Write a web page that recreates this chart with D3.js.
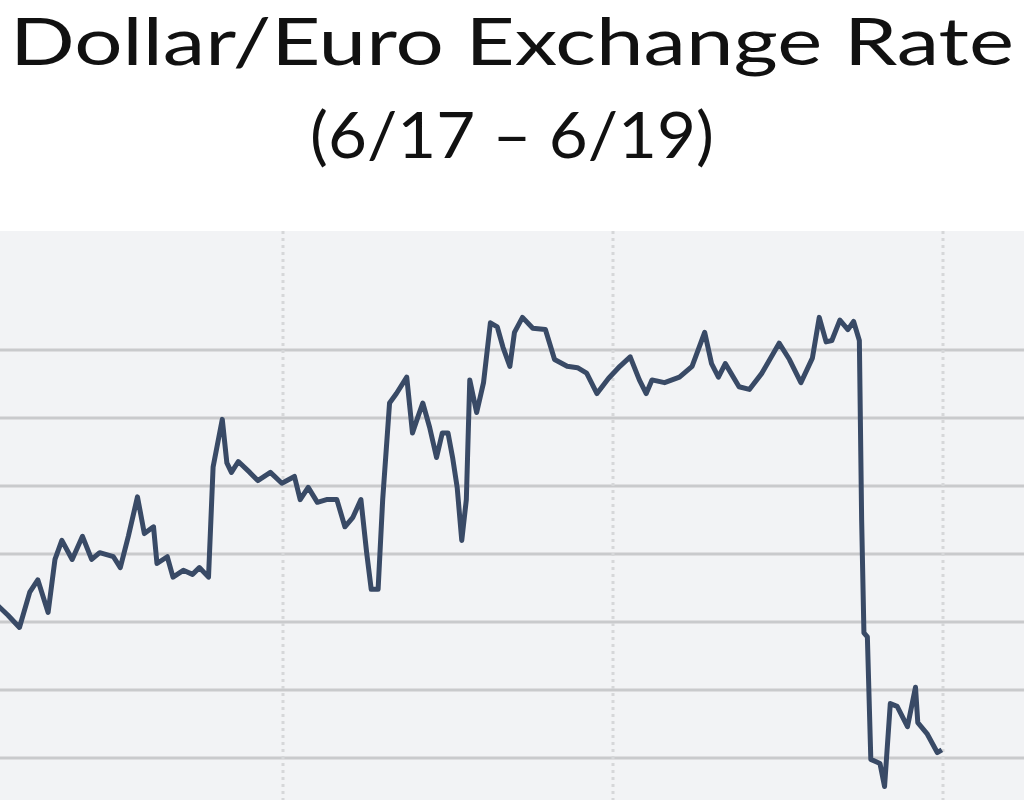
<!DOCTYPE html>
<html>
<head>
<meta charset="utf-8">
<script src="https://cdn.jsdelivr.net/npm/d3@7"></script>
<style>
  body { margin: 0; background: #fff; }
  svg { display: block; }
</style>
</head>
<body>
<div class="chart"></div>
<script>
// euros per dollar, times in UTC
var times = [
  "2019-06-17 03:10", "2019-06-17 04:00", "2019-06-17 04:50", "2019-06-17 05:35", "2019-06-17 06:10",
  "2019-06-17 06:55", "2019-06-17 07:25", "2019-06-17 07:55", "2019-06-17 08:40", "2019-06-17 09:25",
  "2019-06-17 10:05", "2019-06-17 10:40", "2019-06-17 11:40", "2019-06-17 12:10", "2019-06-17 12:45",
  "2019-06-17 13:25", "2019-06-17 13:55", "2019-06-17 14:35", "2019-06-17 14:50", "2019-06-17 15:35",
  "2019-06-17 16:00", "2019-06-17 16:45", "2019-06-17 17:25", "2019-06-17 17:55", "2019-06-17 18:35",
  "2019-06-17 18:55", "2019-06-17 19:35", "2019-06-17 19:55", "2019-06-17 20:15", "2019-06-17 20:45",
  "2019-06-17 21:35", "2019-06-17 22:10", "2019-06-17 23:05", "2019-06-17 23:55",
  "2019-06-18 00:50", "2019-06-18 01:15", "2019-06-18 01:50", "2019-06-18 02:30", "2019-06-18 03:10",
  "2019-06-18 03:55", "2019-06-18 04:30", "2019-06-18 05:05", "2019-06-18 05:40", "2019-06-18 06:05",
  "2019-06-18 06:25", "2019-06-18 06:55", "2019-06-18 07:15", "2019-06-18 07:45", "2019-06-18 08:15",
  "2019-06-18 09:00", "2019-06-18 09:25", "2019-06-18 09:45", "2019-06-18 10:10", "2019-06-18 10:40",
  "2019-06-18 11:10", "2019-06-18 11:35", "2019-06-18 12:00", "2019-06-18 12:20", "2019-06-18 12:40",
  "2019-06-18 13:00", "2019-06-18 13:20", "2019-06-18 13:35", "2019-06-18 14:05", "2019-06-18 14:35",
  "2019-06-18 15:05", "2019-06-18 15:35", "2019-06-18 16:00", "2019-06-18 16:30", "2019-06-18 16:50",
  "2019-06-18 17:25", "2019-06-18 18:10", "2019-06-18 19:05", "2019-06-18 19:45", "2019-06-18 20:40",
  "2019-06-18 21:25", "2019-06-18 22:05", "2019-06-18 22:50", "2019-06-18 23:40",
  "2019-06-19 00:30", "2019-06-19 01:15", "2019-06-19 01:55", "2019-06-19 02:25", "2019-06-19 02:50",
  "2019-06-19 03:45", "2019-06-19 04:50", "2019-06-19 05:45", "2019-06-19 06:40", "2019-06-19 07:10",
  "2019-06-19 07:40", "2019-06-19 08:10", "2019-06-19 09:10", "2019-06-19 09:55", "2019-06-19 10:50",
  "2019-06-19 12:05", "2019-06-19 12:50", "2019-06-19 13:40", "2019-06-19 14:30", "2019-06-19 15:00",
  "2019-06-19 15:30", "2019-06-19 15:55", "2019-06-19 16:30", "2019-06-19 17:05", "2019-06-19 17:30",
  "2019-06-19 17:55", "2019-06-19 18:05", "2019-06-19 18:15", "2019-06-19 18:30", "2019-06-19 18:45",
  "2019-06-19 19:25", "2019-06-19 19:45", "2019-06-19 20:10", "2019-06-19 20:40", "2019-06-19 21:25",
  "2019-06-19 22:00", "2019-06-19 22:10", "2019-06-19 22:50", "2019-06-19 23:35", "2019-06-19 23:55"
];
var rates = [
  0.89213, 0.89205, 0.89196, 0.89222, 0.89231,
  0.89207, 0.89246, 0.89260, 0.89246, 0.89263,
  0.89246, 0.89251, 0.89248, 0.89240, 0.89263,
  0.89292, 0.89265, 0.89270, 0.89243, 0.89248,
  0.89233, 0.89238, 0.89235, 0.89240, 0.89233,
  0.89314, 0.89349, 0.89317, 0.89310, 0.89318,
  0.89310, 0.89304, 0.89310, 0.89302,
  0.89307, 0.89290, 0.89299, 0.89288, 0.89290,
  0.89290, 0.89270, 0.89277, 0.89290, 0.89251,
  0.89224, 0.89224, 0.89290, 0.89361, 0.89368,
  0.89380, 0.89339, 0.89349, 0.89361, 0.89343,
  0.89321, 0.89339, 0.89339, 0.89321, 0.89299,
  0.89260, 0.89290, 0.89378, 0.89354, 0.89376,
  0.89420, 0.89417, 0.89402, 0.89388, 0.89413,
  0.89424, 0.89416, 0.89415, 0.89393, 0.89388,
  0.89387, 0.89383, 0.89368, 0.89379,
  0.89388, 0.89395, 0.89378, 0.89368, 0.89378,
  0.89376, 0.89380, 0.89388, 0.89413, 0.89390,
  0.89380, 0.89390, 0.89373, 0.89371, 0.89383,
  0.89405, 0.89393, 0.89376, 0.89394, 0.89424,
  0.89406, 0.89407, 0.89422, 0.89415, 0.89421,
  0.89407, 0.89275, 0.89192, 0.89189, 0.89099,
  0.89096, 0.89079, 0.89140, 0.89138, 0.89123,
  0.89152, 0.89126, 0.89118, 0.89104, 0.89106
];
var gridValues = [0.8910, 0.8915, 0.8920, 0.8925, 0.8930, 0.8935, 0.8940];
var dayLines = ["2019-06-18 00:00", "2019-06-19 00:00", "2019-06-20 00:00"];
var title = "Dollar/Euro Exchange Rate";
var subtitle = "(6/17 \u2013 6/19)";

var width = 1024, height = 800;
var plotTop = 231;

var parseTime = d3.utcParse("%Y-%m-%d %H:%M");
var data = times.map(function(t, i) { return {date: parseTime(t), rate: rates[i]}; });

var svg = d3.select(".chart").append("svg")
  .attr("width", width)
  .attr("height", height);

var x = d3.scaleUtc()
  .domain([parseTime(dayLines[0]), parseTime(dayLines[2])])
  .range([283, 943]);

var y = d3.scaleLinear()
  .domain([gridValues[0], gridValues[gridValues.length - 1]])
  .range([758, 350]);

// plot background
svg.append("rect")
  .attr("x", 0)
  .attr("y", plotTop)
  .attr("width", width)
  .attr("height", height - plotTop)
  .attr("fill", "#f2f3f5");

// horizontal gridlines
svg.append("g")
  .selectAll("line")
  .data(gridValues)
  .enter().append("line")
  .attr("x1", 0)
  .attr("x2", width)
  .attr("y1", function(d) { return y(d); })
  .attr("y2", function(d) { return y(d); })
  .attr("stroke", "#c9cacc")
  .attr("stroke-width", 3);

// vertical dotted day lines
svg.append("g")
  .selectAll("line")
  .data(dayLines.map(parseTime))
  .enter().append("line")
  .attr("x1", function(d) { return x(d); })
  .attr("x2", function(d) { return x(d); })
  .attr("y1", plotTop)
  .attr("y2", height)
  .attr("stroke", "#d6d7d9")
  .attr("stroke-width", 3)
  .attr("stroke-dasharray", "3,4");

var line = d3.line()
  .x(function(d) { return x(d.date); })
  .y(function(d) { return y(d.rate); });

svg.append("path")
  .datum(data)
  .attr("d", line)
  .attr("fill", "none")
  .attr("stroke", "#394a66")
  .attr("stroke-width", 5)
  .attr("stroke-linejoin", "round");

// titles, squeezed to the width seen in the picture
function addText(txt, size, baseline, target) {
  var t = svg.append("text")
    .attr("x", width / 2)
    .attr("y", baseline)
    .attr("text-anchor", "middle")
    .style("font-family", "Lato, 'Open Sans', sans-serif")
    .style("font-size", size + "px")
    .attr("fill", "#111")
    .text(txt);
  var w = t.node().getComputedTextLength();
  if (Math.abs(w - target) > 4) {
    t.attr("textLength", target).attr("lengthAdjust", "spacingAndGlyphs");
  }
}
addText(title, 66, 65, 1004);
addText(subtitle, 64, 158, 404);
</script>
</body>
</html>
